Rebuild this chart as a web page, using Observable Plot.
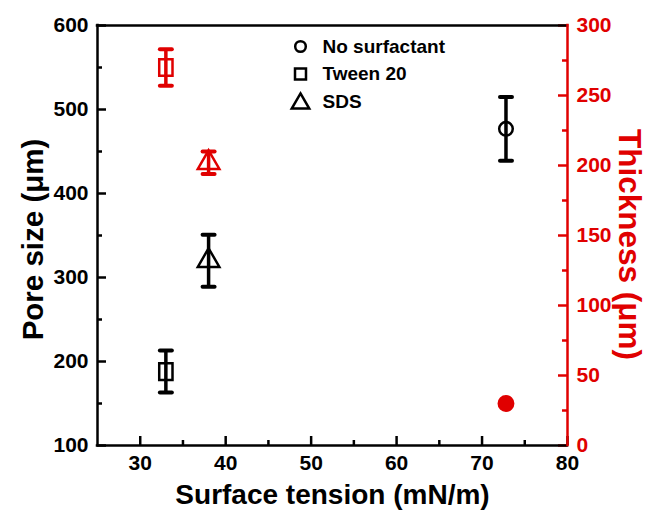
<!DOCTYPE html>
<html><head><meta charset="utf-8">
<script src="https://cdn.jsdelivr.net/npm/d3@7"></script>
<script src="https://cdn.jsdelivr.net/npm/@observablehq/plot@0.6"></script>
<style>
body{margin:0;background:#fff;}
#wrap{width:649px;height:514px;}
#wrap g[aria-label$="tick label"]{font-size:21px;font-weight:bold;}
</style></head><body><div id="wrap"></div>
<script>
// ---- data ----
const categories = ["No surfactant", "Tween 20", "SDS"];
const surfaceTension = [72.8, 33, 38];
const poreSize = [477, 188, 320];
const poreErr = [38, 25, 31];
const thickness = [30, 270, 202];
const thicknessErr = [2, 13, 8];
const xTicks = [30, 40, 50, 60, 70, 80];
const xMinor = [35, 45, 55, 65, 75];
const poreTicks = [100, 200, 300, 400, 500, 600];
const poreMinor = [150, 250, 350, 450, 550];
const thickTicks = [0, 50, 100, 150, 200, 250, 300];
const thickMinor = [25, 75, 125, 175, 225, 275];
const xTitle = "Surface tension (mN/m)";
const yTitle = "Pore size (μm)";
const y2Title = "Thickness (μm)";

// ---- layout ----
const W = 649, H = 514, ML = 97, MR = 82, MT = 25, MB = 69;
const FW = W - ML - MR, FH = H - MT - MB;
const MAJOR = 9, MINOR = 5;

// ---- scales helpers ----
const xDomain = [25, 80];
const poreDomain = [100, 600];
const thickDomain = [0, 300];
const thickToPore = t => poreDomain[0] + (t - thickDomain[0]) * (poreDomain[1] - poreDomain[0]) / (thickDomain[1] - thickDomain[0]);
const poreToThick = p => thickDomain[0] + (p - poreDomain[0]) * (thickDomain[1] - thickDomain[0]) / (poreDomain[1] - poreDomain[0]);

const data = categories.map((c, i) => ({
  c, st: surfaceTension[i], pore: poreSize[i], pe: poreErr[i],
  th: thickToPore(thickness[i]),
  thLo: thickToPore(thickness[i] - thicknessErr[i]),
  thHi: thickToPore(thickness[i] + thicknessErr[i])
}));

const BLACK = "#000000", RED = "#e00000";
const FONT = "'Liberation Sans', Arial, Helvetica, sans-serif";

const capSymbol = {draw(ctx, size) { const w = Math.sqrt(size / Math.PI); ctx.moveTo(-w, 0); ctx.lineTo(w, 0); }};
const rectSymbol = {draw(ctx, size) {
  const r = Math.sqrt(size / Math.PI);
  ctx.moveTo(-0.8 * r, -r); ctx.lineTo(0.8 * r, -r); ctx.lineTo(0.8 * r, r); ctx.lineTo(-0.8 * r, r); ctx.closePath();
}};
const symbolFor = {"No surfactant": "circle", "Tween 20": rectSymbol, "SDS": "triangle"};
const rFor = {"No surfactant": 6.8, "Tween 20": 8.3, "SDS": 8};
const legendSymbol = {"No surfactant": "circle", "Tween 20": "square", "SDS": "triangle"};
const legendR = {"No surfactant": 5.3, "Tween 20": 6.2, "SDS": 6.5};

const frameStyle = {strokeWidth: 2.5, strokeLinecap: "square"};
const labelCommon = {tickSize: 0, label: null, fontWeight: "bold", fontSize: 21};
const tickStyle = {strokeWidth: 2.5};

const marks = [
  // inward ticks
  Plot.tickX(xTicks, {x: d => d, insetTop: FH - MAJOR, stroke: BLACK, ...tickStyle}),
  Plot.tickX(xMinor, {x: d => d, insetTop: FH - MINOR, stroke: BLACK, ...tickStyle}),
  Plot.tickY(poreTicks, {y: d => d, insetRight: FW - MAJOR, stroke: BLACK, ...tickStyle}),
  Plot.tickY(poreMinor, {y: d => d, insetRight: FW - MINOR, stroke: BLACK, ...tickStyle}),
  Plot.tickY(thickTicks.map(thickToPore), {y: d => d, insetLeft: FW - MAJOR, stroke: RED, ...tickStyle}),
  Plot.tickY(thickMinor.map(thickToPore), {y: d => d, insetLeft: FW - MINOR, stroke: RED, ...tickStyle}),
  // frame
  Plot.ruleY([poreDomain[1]], {stroke: BLACK, ...frameStyle}),
  Plot.ruleY([poreDomain[0]], {stroke: BLACK, ...frameStyle}),
  Plot.ruleX([xDomain[0]], {stroke: BLACK, ...frameStyle}),
  Plot.ruleX([xDomain[1]], {stroke: RED, ...frameStyle}),
  // tick labels
  Plot.axisX(xTicks, {anchor: "bottom", tickPadding: 10, fill: BLACK, ...labelCommon}),
  Plot.axisY(poreTicks, {anchor: "left", tickPadding: 9, fill: BLACK, ...labelCommon}),
  Plot.axisY(thickTicks.map(thickToPore), {anchor: "right", tickPadding: 9, fill: RED,
    tickFormat: d => String(Math.round(poreToThick(d))), ...labelCommon}),
  // pore size error bars
  Plot.ruleX(data, {x: "st", y1: d => d.pore - d.pe, y2: d => d.pore + d.pe, stroke: BLACK, strokeWidth: 3.5}),
  Plot.dot(data, {x: "st", y: d => d.pore + d.pe, symbol: capSymbol, r: 6, stroke: BLACK, strokeWidth: 4, strokeLinecap: "round", fill: "none"}),
  Plot.dot(data, {x: "st", y: d => d.pore - d.pe, symbol: capSymbol, r: 6, stroke: BLACK, strokeWidth: 4, strokeLinecap: "round", fill: "none"}),
  // thickness error bars
  Plot.ruleX(data, {x: "st", y1: "thLo", y2: "thHi", stroke: RED, strokeWidth: 3.5}),
  Plot.dot(data.filter(d => d.thHi - d.thLo > 10), {x: "st", y: "thHi", symbol: capSymbol, r: 6, stroke: RED, strokeWidth: 4, strokeLinecap: "round", fill: "none"}),
  Plot.dot(data.filter(d => d.thHi - d.thLo > 10), {x: "st", y: "thLo", symbol: capSymbol, r: 6, stroke: RED, strokeWidth: 4, strokeLinecap: "round", fill: "none"}),
  // markers
  ...categories.map(c => Plot.dot(data.filter(d => d.c === c), {x: "st", y: "pore", symbol: symbolFor[c], r: rFor[c], stroke: BLACK, strokeWidth: 2.5, fill: "none"})),
  ...categories.map(c => Plot.dot(data.filter(d => d.c === c), {x: "st", y: "th", symbol: symbolFor[c], r: c === "No surfactant" ? 7.2 : rFor[c], stroke: RED, strokeWidth: 2.5, fill: c === "No surfactant" ? RED : "none"})),
  // axis titles
  Plot.text([yTitle], {frameAnchor: "left", dx: -64, dy: 4, rotate: -90, textAnchor: "middle", lineAnchor: "middle", fontSize: 29.5, fontWeight: "bold", fill: BLACK}),
  Plot.text([y2Title], {frameAnchor: "right", dx: 62, dy: 9, rotate: 90, textAnchor: "middle", lineAnchor: "middle", fontSize: 31.5, fontWeight: "bold", fill: RED}),
  Plot.text([xTitle], {frameAnchor: "bottom", dy: 50, textAnchor: "middle", lineAnchor: "middle", fontSize: 28, fontWeight: "bold", fill: BLACK}),
  // legend
  ...categories.map((c, i) => Plot.dot([c], {frameAnchor: "top-left", dx: 203, dy: 21 + 27.5 * i + (c === "SDS" ? 2 : 0), symbol: legendSymbol[c], r: legendR[c], stroke: BLACK, strokeWidth: 2.5, fill: "none"})),
  ...categories.map((c, i) => Plot.text([c], {frameAnchor: "top-left", dx: 225, dy: 21 + 27.5 * i, textAnchor: "start", lineAnchor: "middle", fontSize: 19, fontWeight: "bold", fill: BLACK}))
];

const chart = Plot.plot({
  width: W,
  height: H,
  marginLeft: ML,
  marginRight: MR,
  marginTop: MT,
  marginBottom: MB,
  style: {fontFamily: FONT, fontWeight: "bold", fontSize: "21px", background: "#fff", overflow: "visible"},
  x: {domain: xDomain, axis: null},
  y: {domain: poreDomain, axis: null},
  marks
});
document.getElementById("wrap").appendChild(chart);
</script>
</body></html>
